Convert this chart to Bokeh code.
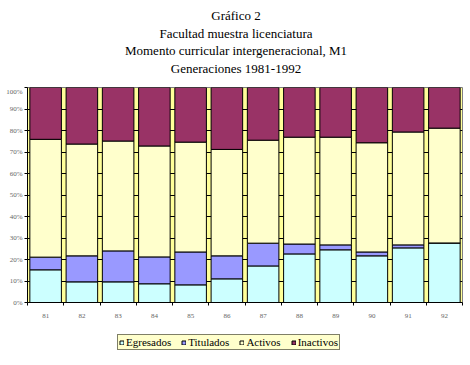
import numpy as np
from bokeh.plotting import figure
from bokeh.models import ColumnDataSource, FixedTicker, Range1d, Label
from bokeh.layouts import column
from bokeh.embed import file_html
from bokeh.resources import INLINE

# ---- data ----
generaciones = ["81", "82", "83", "84", "85", "86", "87", "88", "89", "90", "91", "92"]
egresados = [15.2, 9.6, 9.6, 8.7, 8.2, 11.0, 17.0, 22.6, 24.5, 21.7, 25.4, 27.7]
titulados = [5.9, 12.1, 14.4, 12.5, 15.3, 10.7, 10.6, 4.6, 2.3, 1.8, 1.4, 0.0]
activos = [54.8, 52.0, 51.1, 51.6, 51.1, 49.5, 47.9, 49.7, 50.1, 50.8, 52.5, 53.4]
inactivos = [24.1, 26.3, 24.9, 27.2, 25.4, 28.8, 24.5, 23.1, 23.1, 25.7, 20.7, 18.9]
series_names = ["Egresados", "Titulados", "Activos", "Inactivos"]
y_ticks = [0, 10, 20, 30, 40, 50, 60, 70, 80, 90, 100]
y_tick_labels = ["0%", "10%", "20%", "30%", "40%", "50%", "60%", "70%", "80%", "90%", "100%"]
title_lines = ["Gráfico 2", "Facultad muestra licenciatura",
               "Momento curricular intergeneracional, M1", "Generaciones 1981-1992"]

colors = ["#CCFFFF", "#9999FF", "#FFFFCC", "#993366"]
SERIF = "Liberation Serif"
W = 470
FRAME_LEFT = 27  # frames of the stacked figures are aligned on this edge


def bare(fig):
    fig.outline_line_color = None
    fig.background_fill_color = "white"
    fig.border_fill_color = "white"
    for g in fig.grid:
        g.visible = False
    return fig


n = len(generaciones)
xpos = np.arange(n) + 0.5
source = ColumnDataSource(dict(x=xpos, Egresados=egresados, Titulados=titulados,
                               Activos=activos, Inactivos=inactivos))

# ---- title block ----
top = bare(figure(width=W, height=87, output_backend="svg", toolbar_location=None,
                  x_range=Range1d(0, 1), y_range=Range1d(0, 1),
                  x_axis_location=None, y_axis_location=None, min_border=0))
for txt, yy in zip(title_lines, [72.5, 54.5, 37, 19.5]):
    top.add_layout(Label(x=235.5 - FRAME_LEFT, y=yy, x_units="screen", y_units="screen",
                         text=txt, text_font=SERIF, text_font_size="13px",
                         text_align="center", text_baseline="middle", text_color="black"))

# ---- main chart ----
p = figure(width=W, height=237, output_backend="svg", toolbar_location=None,
           x_range=Range1d(0, n), y_range=Range1d(0, 100),
           min_border_left=FRAME_LEFT, min_border_right=8, min_border_top=0, min_border_bottom=22)

p.background_fill_color = "#FFFF99"
p.border_fill_color = "white"
p.outline_line_color = "#808080"

p.vbar_stack(series_names, x="x", width=0.87, color=colors, line_color="black",
             line_width=1, source=source)

p.xgrid.grid_line_color = None
p.ygrid.grid_line_color = "black"
p.ygrid.ticker = FixedTicker(ticks=y_ticks)

p.yaxis.ticker = FixedTicker(ticks=y_ticks)
p.yaxis.major_label_overrides = {t: l for t, l in zip(y_ticks, y_tick_labels)}
p.yaxis.major_tick_out = 3
p.yaxis.major_tick_in = 0
p.yaxis.minor_tick_line_color = None
p.yaxis.axis_line_color = "black"
p.yaxis.major_tick_line_color = "black"
p.yaxis.major_label_text_font = SERIF
p.yaxis.major_label_text_font_size = "7px"
p.yaxis.major_label_text_color = "#666666"
p.yaxis.major_label_standoff = 2

p.xaxis.ticker = FixedTicker(ticks=list(xpos), minor_ticks=list(np.arange(n + 1)))
p.xaxis.major_label_overrides = {float(x): g for x, g in zip(xpos, generaciones)}
p.xaxis.major_tick_line_color = None
p.xaxis.major_tick_out = 0
p.xaxis.major_tick_in = 0
p.xaxis.minor_tick_line_color = "black"
p.xaxis.minor_tick_out = 3
p.xaxis.minor_tick_in = 0
p.xaxis.axis_line_color = "black"
p.xaxis.major_label_text_font = SERIF
p.xaxis.major_label_text_font_size = "7px"
p.xaxis.major_label_text_color = "#666666"
p.xaxis.major_label_standoff = 8

# ---- legend block (same stacked series, drawn off-range, only the legend shows) ----
bot = bare(figure(width=W, height=41, output_backend="svg", toolbar_location=None,
                  x_range=Range1d(1000, 1001), y_range=Range1d(1000, 1001),
                  x_axis_location=None, y_axis_location=None, min_border=0))
bot.vbar_stack(series_names, x="x", width=0.87, color=colors, line_color="black",
               line_width=1, source=source, legend_label=series_names)

lg = bot.legend[0]
lg.orientation = "horizontal"
lg.location = (117 - FRAME_LEFT, 15)
lg.label_text_font = SERIF
lg.label_text_font_size = "11px"
lg.label_text_color = "black"
lg.background_fill_color = "#FFFFCC"
lg.background_fill_alpha = 1
lg.border_line_color = "black"
lg.border_line_width = 1
lg.padding = 1
lg.spacing = 10
lg.margin = 0
lg.label_standoff = 2
lg.glyph_width = 5
lg.glyph_height = 5
lg.label_height = 10

layout = column(top, p, bot, spacing=0)
open("out.html", "w").write(file_html(layout, INLINE))
